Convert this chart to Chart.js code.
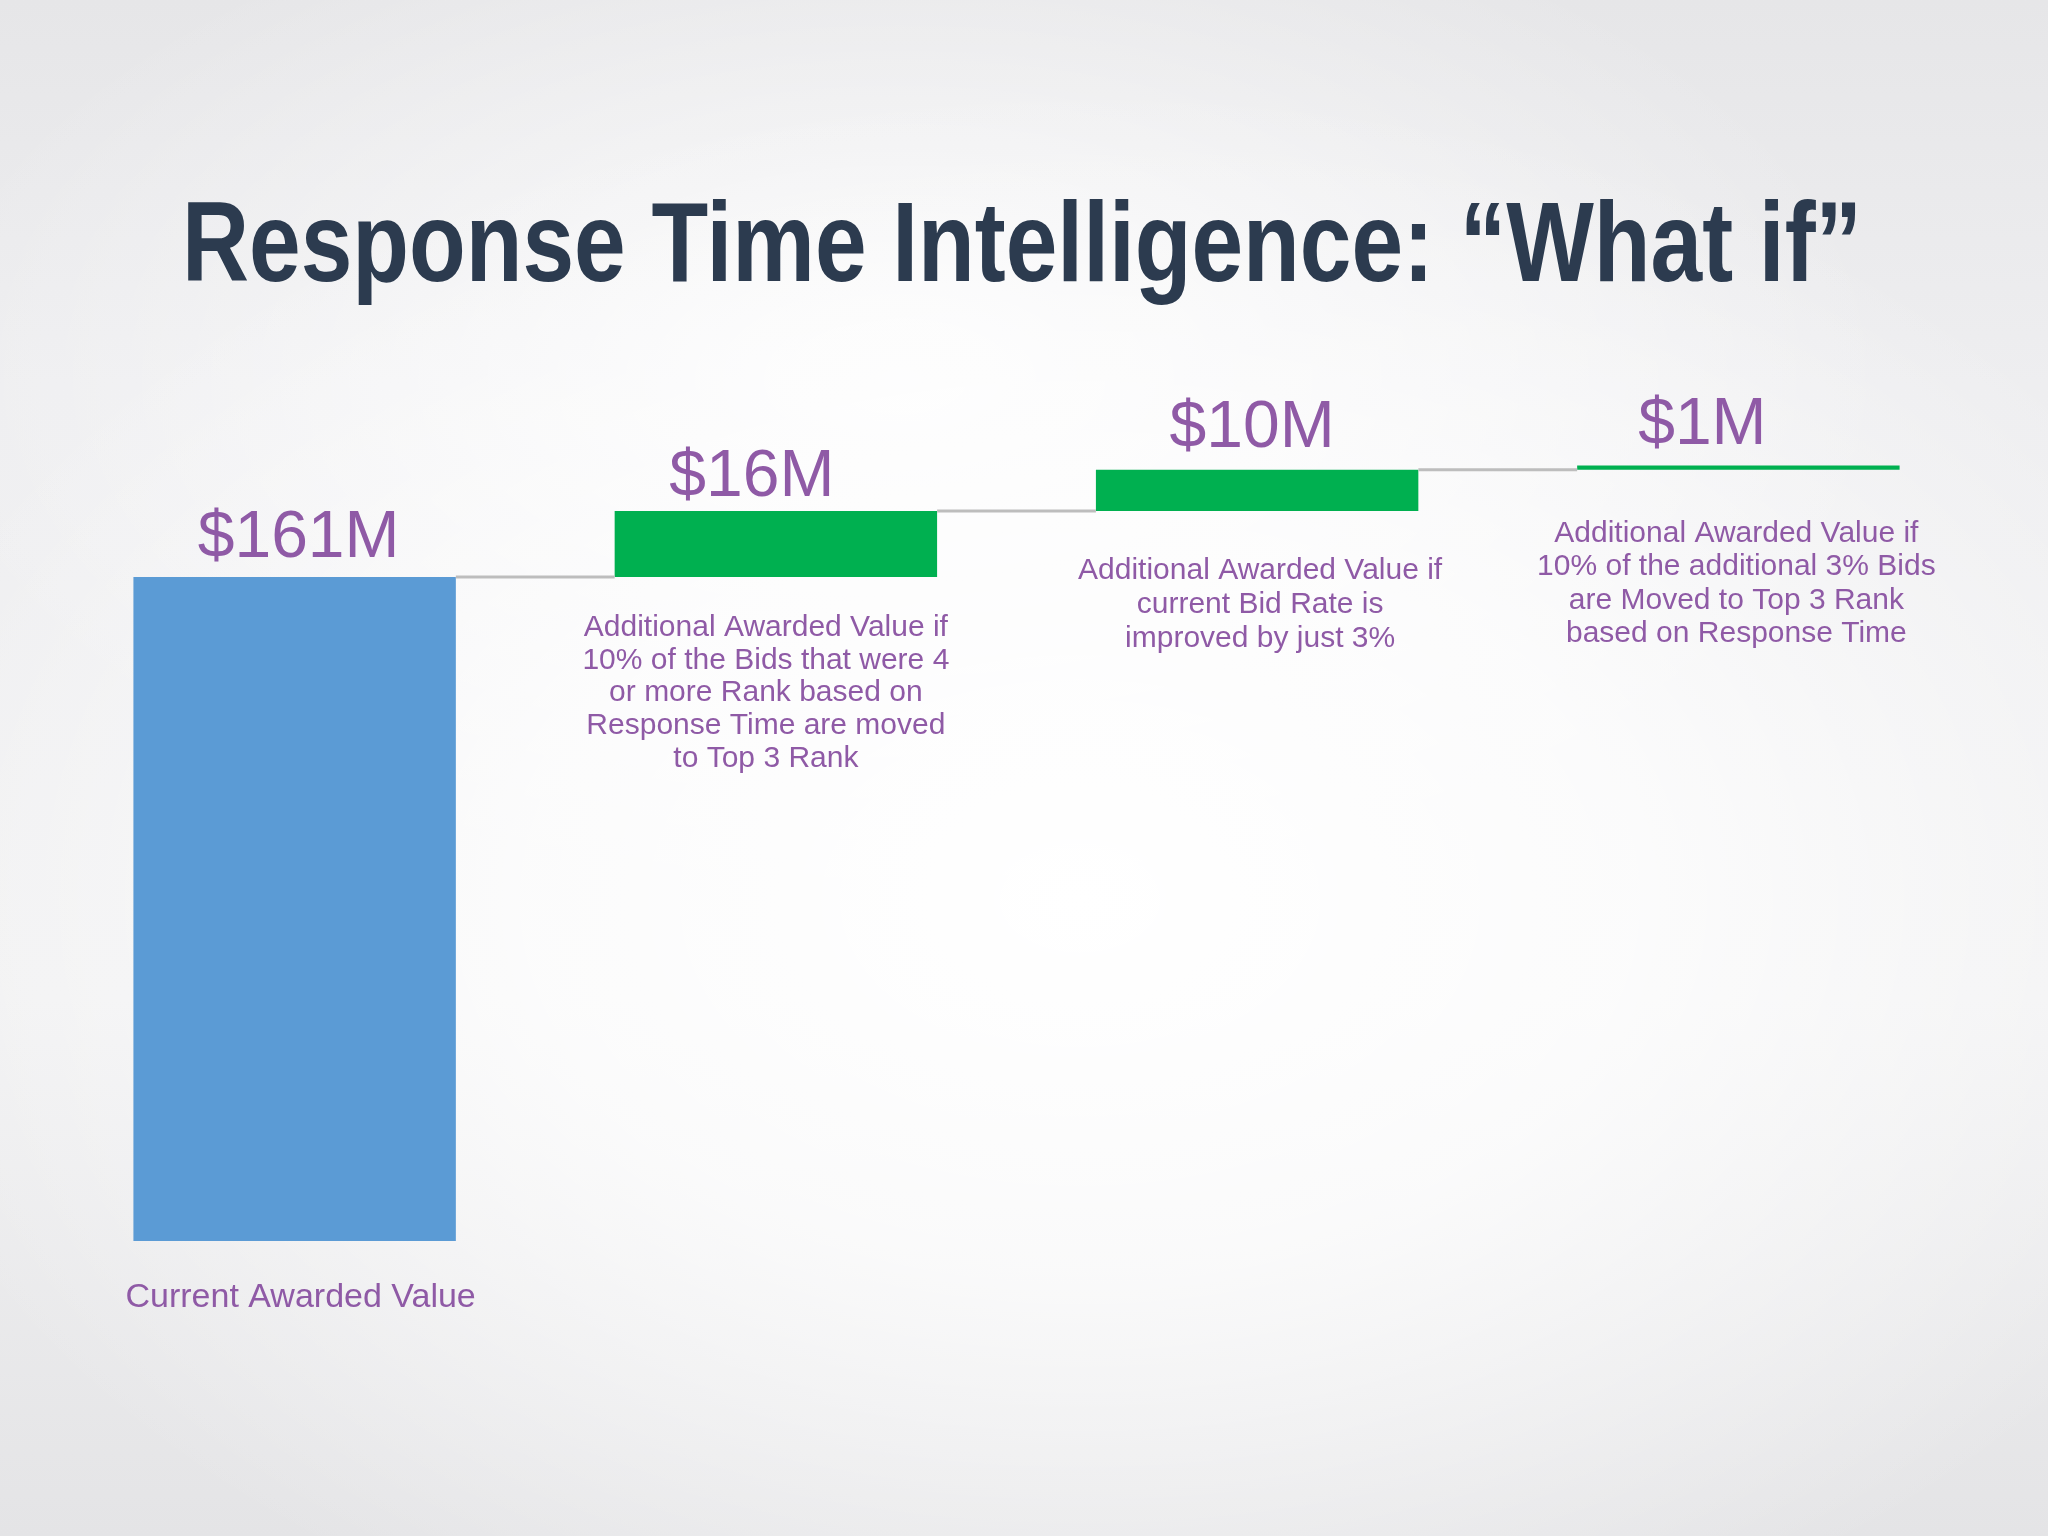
<!DOCTYPE html>
<html><head><meta charset="utf-8">
<script src="https://cdn.jsdelivr.net/npm/chart.js@4"></script>
<style>
html,body{margin:0;padding:0;width:2048px;height:1536px;overflow:hidden;}
body{
background:
 radial-gradient(ellipse 1250px 820px at 1080px 900px, rgba(255,255,255,1) 0%, rgba(255,255,255,0.75) 45%, rgba(255,255,255,0) 100%),
 radial-gradient(ellipse 1000px 520px at 900px 380px, rgba(255,255,255,0.85) 0%, rgba(255,255,255,0) 100%),
 linear-gradient(180deg,#e6e6e8 0%, #eeeef0 25%, #f1f1f2 65%, #e4e4e6 100%);
}
canvas{display:block}
</style></head><body>
<canvas id="c" width="2048" height="1536"></canvas>
<script>
const titleText = 'Response Time Intelligence: \u201CWhat if\u201D';
const categories = ['Current', 'Top 3 Rank', 'Bid Rate +3%', 'Additional 3% Bids'];
const increments = [161, 16, 10, 1];
const valueLabels = ['$161M', '$16M', '$10M', '$1M'];
const descriptions = [
  ['Current Awarded Value'],
  ['Additional Awarded Value if', '10% of the Bids that were 4', 'or more Rank based on', 'Response Time are moved', 'to Top 3 Rank'],
  ['Additional Awarded Value if', 'current Bid Rate is', 'improved by just 3%'],
  ['Additional Awarded Value if', '10% of the additional 3% Bids', 'are Moved to Top 3 Rank', 'based on Response Time']
];
const barColors = ['#5b9bd5', '#00b050', '#00b050', '#00b050'];

// waterfall ranges built from the increments
const ranges = [];
let run = 0;
increments.forEach(v => { ranges.push([run, run + v]); run += v; });

// layout (positions / styles only)
const purple = '#8f5aa6';
const labelLayout = { dx: [4, -24, -5, -36], gap: [20, 15, 23, 22], size: 66 };
const descLayout = { dx: [6, -10, 3, -2], dy: [66, 59, 68, 72], size: [34, 30, 30, 30], lineH: [34, 32.75, 34, 33.5] };

const overlay = {
  id: 'overlay',
  afterDatasetsDraw(chart) {
    const ctx = chart.ctx;
    const meta = chart.getDatasetMeta(0);
    const ys = chart.scales.y;
    const bars = meta.data;
    ctx.save();
    // connectors
    ctx.strokeStyle = '#bdbdbd';
    ctx.lineWidth = 3;
    for (let i = 0; i < bars.length - 1; i++) {
      const y = ys.getPixelForValue(ranges[i][1]);
      const x1 = bars[i].x + bars[i].width / 2;
      const x2 = bars[i + 1].x - bars[i + 1].width / 2;
      ctx.beginPath(); ctx.moveTo(x1, y); ctx.lineTo(x2, y); ctx.stroke();
    }
    // value labels
    ctx.fillStyle = purple;
    ctx.textAlign = 'center';
    ctx.textBaseline = 'alphabetic';
    ctx.font = labelLayout.size + 'px "Liberation Sans", Arial, sans-serif';
    bars.forEach((b, i) => {
      const top = Math.min(b.y, b.base);
      ctx.fillText(valueLabels[i], b.x + labelLayout.dx[i], top - labelLayout.gap[i]);
    });
    // descriptions
    bars.forEach((b, i) => {
      const bottom = Math.max(b.y, b.base);
      ctx.font = descLayout.size[i] + 'px "Liberation Sans", Arial, sans-serif';
      descriptions[i].forEach((line, k) => {
        ctx.fillText(line, b.x + descLayout.dx[i], bottom + descLayout.dy[i] + k * descLayout.lineH[i]);
      });
    });
    // title (condensed bold)
    ctx.fillStyle = '#2c3b4f';
    ctx.font = 'bold 114px "Liberation Sans", Arial, sans-serif';
    const w = ctx.measureText(titleText).width;
    const sx = 1680 / w;
    ctx.translate(1022, 281);
    ctx.scale(sx, 1);
    ctx.fillText(titleText, 0, 0);
    ctx.restore();
  }
};

new Chart(document.getElementById('c'), {
  type: 'bar',
  data: {
    labels: categories,
    datasets: [{
      data: ranges,
      backgroundColor: barColors,
      borderWidth: 0,
      barPercentage: 1,
      categoryPercentage: 0.67
    }]
  },
  options: {
    responsive: false,
    devicePixelRatio: 1,
    animation: false,
    layout: { padding: { left: 54, right: 69, top: 416, bottom: 295 } },
    plugins: { legend: { display: false }, tooltip: { enabled: false }, title: { display: false } },
    scales: {
      x: { display: false },
      y: { display: false, min: 0, max: 200 }
    }
  },
  plugins: [overlay]
});
</script>
</body></html>
